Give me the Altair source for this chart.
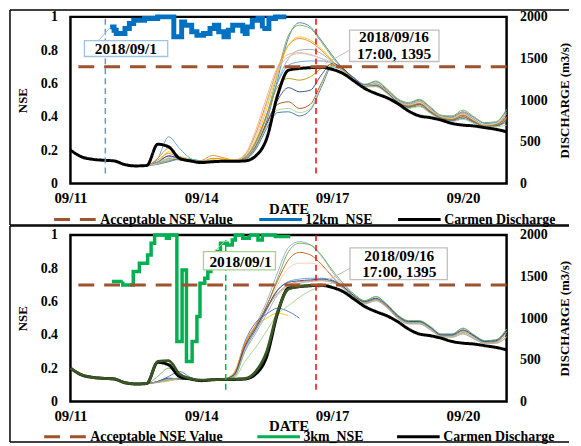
import altair as alt
import pandas as pd

START = pd.Timestamp("2018-09-11 00:00:00")


def iso(d):
    return (START + pd.Timedelta(days=d)).strftime("%Y-%m-%dT%H:%M:%S")


# ---------------- data ----------------
obs_day = [i * 0.25 for i in range(41)]  # 6-hourly, 09/11 00:00 .. 09/21 00:00
obs_q = [400, 320, 290, 278, 270, 225, 210, 215, 470, 440, 300, 270, 250, 260, 265, 265, 270, 330, 540, 1060,
         1360, 1380, 1390, 1395, 1370, 1320, 1230, 1140, 1080, 1030, 960, 870, 810, 790, 760, 720, 700, 690,
         670, 650, 620]

member_day = [1.5 + i * 0.25 for i in range(35)]

m12_colors = ["#4472C4", "#70AD47", "#ED7D31", "#FFC000", "#A5A5A5", "#5B9BD5", "#F4B183",
              "#264478", "#9E480E", "#2E75B6", "#A9D18E", "#BF9000", "#C9C9C9"]
m12_values = [
    [210, 220, 260, 330, 290, 262, 252, 262, 268, 270, 300, 450, 750, 1250, 1750, 1930, 1880, 1720, 1540, 1380, 1270, 1190, 1220, 1130, 1010, 960, 1000, 910, 810, 800, 860, 790, 720, 730, 880],
    [210, 215, 240, 300, 280, 262, 252, 262, 266, 270, 320, 500, 820, 1320, 1780, 1900, 1860, 1700, 1520, 1370, 1260, 1180, 1230, 1140, 1020, 970, 1010, 920, 820, 810, 880, 800, 730, 740, 890],
    [210, 215, 280, 360, 300, 275, 275, 335, 310, 275, 340, 600, 980, 1380, 1660, 1740, 1700, 1600, 1470, 1340, 1240, 1170, 1190, 1120, 1000, 940, 980, 890, 800, 790, 850, 770, 700, 710, 840],
    [210, 215, 250, 380, 320, 278, 262, 285, 305, 282, 320, 520, 900, 1330, 1660, 1760, 1720, 1620, 1480, 1350, 1240, 1170, 1180, 1100, 990, 930, 960, 870, 790, 780, 830, 760, 700, 700, 800],
    [210, 215, 230, 290, 300, 272, 256, 262, 266, 268, 300, 470, 800, 1220, 1500, 1600, 1610, 1560, 1460, 1360, 1250, 1180, 1200, 1120, 1000, 950, 990, 900, 800, 790, 840, 770, 700, 710, 830],
    [210, 215, 300, 560, 420, 300, 262, 262, 266, 270, 310, 490, 830, 1210, 1420, 1460, 1470, 1470, 1450, 1360, 1240, 1160, 1180, 1100, 980, 920, 950, 860, 780, 760, 800, 740, 690, 690, 760],
    [210, 215, 235, 280, 320, 292, 268, 272, 282, 278, 350, 640, 1040, 1400, 1550, 1570, 1550, 1500, 1440, 1340, 1240, 1160, 1170, 1090, 980, 920, 940, 860, 780, 760, 800, 740, 690, 690, 780],
    [210, 215, 250, 330, 300, 270, 255, 262, 266, 268, 290, 430, 710, 1000, 1150, 1100, 1120, 1300, 1440, 1380, 1260, 1180, 1190, 1110, 990, 930, 960, 870, 790, 770, 820, 750, 690, 700, 800],
    [210, 215, 240, 270, 300, 280, 262, 264, 266, 268, 290, 440, 730, 950, 980, 900, 950, 1200, 1420, 1370, 1250, 1170, 1180, 1100, 980, 920, 950, 860, 780, 760, 800, 740, 690, 690, 770],
    [210, 215, 230, 260, 290, 290, 270, 265, 266, 268, 285, 410, 660, 850, 860, 810, 880, 1150, 1400, 1360, 1250, 1170, 1170, 1090, 975, 910, 930, 850, 775, 750, 780, 730, 690, 690, 740],
    [210, 215, 235, 275, 310, 290, 265, 265, 266, 268, 290, 430, 690, 880, 900, 850, 900, 1180, 1410, 1360, 1245, 1160, 1160, 1080, 970, 900, 920, 840, 770, 740, 770, 720, 680, 680, 700],
    [210, 215, 300, 420, 320, 280, 262, 300, 290, 270, 310, 500, 820, 1160, 1260, 1240, 1280, 1380, 1430, 1360, 1250, 1170, 1190, 1110, 990, 930, 960, 870, 790, 770, 820, 750, 690, 700, 790],
    [210, 215, 245, 310, 290, 268, 258, 265, 270, 272, 330, 560, 950, 1350, 1520, 1560, 1540, 1500, 1450, 1350, 1250, 1175, 1190, 1110, 990, 940, 970, 880, 800, 780, 830, 760, 700, 720, 860],
]

m3_colors = ["#8FAADC", "#70AD47", "#C55A11", "#F8CBAD", "#4472C4", "#FFC000", "#5B9BD5",
             "#ED7D31", "#A9D18E", "#264478", "#A5A5A5"]
m3_values = [
    [210, 215, 230, 260, 280, 265, 255, 262, 266, 300, 650, 920, 1200, 1550, 1850, 1920, 1880, 1750, 1560, 1400, 1290, 1210, 1260, 1170, 1040, 970, 970, 900, 810, 810, 880, 800, 730, 740, 870],
    [210, 215, 300, 400, 300, 265, 255, 262, 266, 290, 600, 880, 1150, 1480, 1800, 1900, 1880, 1760, 1580, 1420, 1290, 1210, 1260, 1170, 1040, 970, 970, 900, 810, 810, 880, 800, 730, 740, 870],
    [210, 215, 235, 250, 275, 270, 258, 262, 266, 320, 680, 900, 1150, 1450, 1700, 1790, 1760, 1650, 1500, 1370, 1260, 1190, 1230, 1140, 1020, 950, 950, 880, 790, 790, 850, 780, 710, 720, 840],
    [210, 215, 225, 245, 265, 265, 256, 262, 266, 300, 620, 860, 1100, 1400, 1600, 1660, 1660, 1620, 1520, 1390, 1270, 1190, 1220, 1140, 1010, 950, 950, 880, 790, 790, 840, 770, 710, 720, 830],
    [210, 215, 240, 300, 360, 290, 256, 262, 266, 330, 720, 950, 1050, 1120, 1080, 1000],
    [210, 215, 230, 250, 270, 265, 256, 262, 266, 350, 700, 900, 1000, 1060, 1030],
    [210, 215, 235, 270, 275, 265, 256, 262, 266, 310, 640, 850, 1100, 1330, 1440, 1470, 1480, 1480, 1460, 1380, 1270, 1190, 1230, 1150, 1020, 950, 950, 880, 790, 790, 850, 780, 710, 720, 840],
    [210, 215, 230, 255, 270, 268, 258, 262, 266, 330, 700, 920, 1120, 1300, 1400, 1440, 1450, 1460, 1440, 1370, 1260, 1180, 1220, 1140, 1010, 940, 940, 870, 790, 780, 830, 760, 700, 710, 810],
    [210, 215, 230, 250, 265, 262, 256, 262, 266, 280, 480, 650, 850, 1050, 1150, 1250, 1330, 1380, 1420, 1370, 1260, 1180, 1210, 1130, 1000, 940, 940, 870, 790, 780, 820, 760, 700, 700, 780],
    [210, 215, 240, 280, 270, 265, 256, 262, 266, 320, 660, 880, 1120, 1340, 1430, 1450, 1460, 1470, 1450, 1380, 1270, 1200, 1240, 1160, 1030, 960, 960, 890, 800, 800, 860, 790, 720, 730, 850],
    [210, 215, 235, 265, 280, 270, 258, 262, 266, 300, 600, 820, 1050, 1280, 1380, 1420, 1440, 1450, 1430, 1360, 1250, 1170, 1210, 1130, 1000, 930, 930, 860, 780, 770, 810, 750, 700, 700, 770],
]

# thick dark-olive run in the 3 km panel (6-hourly from 09/11 00:00)
olive_q = [400, 320, 290, 278, 270, 225, 210, 215, 480, 490, 330, 275, 255, 262, 266, 268, 275, 360, 600, 1080,
           1350, 1380, 1390]

nse12_day = [0.91, 1.0, 1.05, 1.25, 1.35, 1.45, 1.7, 2.0, 2.37, 2.55, 2.62, 2.78, 2.9, 3.05, 3.2, 3.3, 3.4,
             3.52, 3.62, 3.72, 3.85, 3.95, 4.05, 4.17, 4.3, 4.4, 4.55, 4.7, 4.95]
nse12_val = [0.94, 0.92, 0.90, 0.93, 0.96, 0.98, 0.99, 1.0, 0.88, 0.97, 0.95, 0.91, 0.89, 0.90, 0.93, 0.95, 0.91,
             0.88, 0.92, 0.95, 0.95, 0.90, 0.94, 0.98, 0.99, 0.93, 0.99, 1.0, 1.0]

nse3_day = [0.95, 1.2, 1.44, 1.58, 1.77, 1.85, 1.93, 2.2, 2.27, 2.44, 2.56, 2.66, 2.79, 2.9, 2.97, 3.08, 3.15,
            3.22, 3.35, 3.44, 3.6, 3.71, 3.78, 3.95, 4.1, 4.3, 4.4, 4.7, 5.0]
nse3_val = [0.72, 0.70, 0.78, 0.83, 0.88, 0.95, 1.0, 0.98, 1.0, 0.36, 0.79, 0.24, 0.36, 0.51, 0.71, 0.74, 0.78,
            0.83, 0.90, 0.95, 0.94, 0.97, 1.0, 0.98, 1.0, 0.97, 1.0, 0.99, 1.0]

acceptable_nse = [0.7]

# annotations (days from 09/11 00:00, NSE units)
p1_vline_day = [0.8, 5.63]
p1_vline_y0 = [0.06, 0.06]
p1_vline_y1 = [1.0, 1.0]
p1_vline_col = ["#5B9BD5", "#FF0000"]
p1_box_x0 = [0.32, 6.40]
p1_box_x1 = [2.23, 8.45]
p1_box_y0 = [0.762, 0.732]
p1_box_y1 = [0.857, 0.921]
p1_box_col = ["#9DC3E6", "#BFBFBF"]
p1_text = ["2018/09/1", "2018/09/16", "17:00, 1395"]
p1_text_day = [1.27, 7.42, 7.42]
p1_text_y = [0.807, 0.876, 0.778]
p1_lead_x0 = [0.64, 6.40]
p1_lead_y0 = [0.857, 0.80]
p1_lead_x1 = [0.91, 5.85]
p1_lead_y1 = [0.935, 0.72]

p2_vline_day = [3.56, 5.63]
p2_vline_y0 = [0.07, 0.07]
p2_vline_y1 = [0.97, 1.0]
p2_vline_col = ["#00B050", "#FF0000"]
p2_box_x0 = [3.05, 6.41]
p2_box_x1 = [4.70, 8.64]
p2_box_y0 = [0.79, 0.731]
p2_box_y1 = [0.90, 0.922]
p2_box_col = ["#A9D18E", "#BFBFBF"]
p2_text = ["2018/09/1", "2018/09/16", "17:00, 1395"]
p2_text_day = [3.90, 7.54, 7.54]
p2_text_y = [0.840, 0.875, 0.776]
p2_lead_x0 = [3.30, 6.41]
p2_lead_y0 = [0.90, 0.80]
p2_lead_x1 = [3.55, 5.85]
p2_lead_y1 = [0.965, 0.72]

# ---------------- styling ----------------
FONT = "Liberation Serif"
BROWN = "#A0522D"
W, H = 440, 168

x_scale = alt.Scale(domain=[alt.DateTime(year=2018, month=9, date=11),
                            alt.DateTime(year=2018, month=9, date=21)])
nse_axis = alt.Axis(orient="left", values=[0, 0.2, 0.4, 0.6, 0.8, 1], format=".1~f", title="NSE",
                    ticks=False, labelPadding=13, grid=False, domain=False, labelFlush=False,
                    labelFontSize=14, titleFontSize=13, titleAngle=270, titleX=-48, titleY=84,
                    titleBaseline="middle", titleAlign="center")
nse_scale = alt.Scale(domain=[0, 1], nice=False)
q_axis = alt.Axis(orient="right", values=[0, 500, 1000, 1500, 2000], format="d", title="DISCHARGE (m3/s)",
                  ticks=False, labelPadding=13, grid=False, domain=False, labelFlush=False,
                  labelFontSize=14, titleFontSize=13, titleAngle=270, titleX=58, titleY=84,
                  titleBaseline="middle", titleAlign="center")
q_scale = alt.Scale(domain=[0, 2000], nice=False)


def panel(members, colors, nse_day, nse_val, nse_name, nse_color, nse_width, extra_olive,
          vday, vy0, vy1, vcol, bx0, bx1, by0, by1, bcol, texts, tday, ty, lx0, ly0, lx1, ly1,
          leg_x, leg_y, leg_pad, frame_top, frame_bottom, lab_pad, date_y):
    x_axis = alt.Axis(values=[alt.DateTime(year=2018, month=9, date=d) for d in (11, 14, 17, 20)],
                      format="%m/%d", title="DATE", ticks=False, labelPadding=lab_pad,
                      labelFlush=False, grid=False, domain=False, labelFontSize=15, titleFontSize=15,
                      titleY=date_y, titleBaseline="middle")

    def X(field="t"):
        return alt.X(f"{field}:T", scale=x_scale, axis=x_axis)

    series_dom = ["Acceptable NSE Value", nse_name, "Carmen Discharge"]
    legend = alt.Legend(orient="none", legendX=leg_x, legendY=leg_y, direction="horizontal", title=None,
                        symbolType="stroke", symbolSize=1849, symbolStrokeWidth=3,
                        labelFont=FONT, labelFontWeight="bold", labelFontSize=14, labelColor="black",
                        columnPadding=leg_pad, labelOffset=2)
    color = alt.Color("series:N", scale=alt.Scale(domain=series_dom, range=[BROWN, nse_color, "#000000"]),
                      legend=legend)
    dash = alt.StrokeDash("series:N", scale=alt.Scale(domain=series_dom, range=[[16, 10], [1, 0], [1, 0]]),
                          legend=legend)

    rows = []
    for k, (vals, col) in enumerate(zip(members, colors)):
        for d, v in zip(member_day, vals):
            rows.append({"t": iso(d), "q": v, "member": f"m{k}", "col": col})
    mdf = pd.DataFrame(rows)
    odf = pd.DataFrame({"t": [iso(d) for d in obs_day], "q": obs_q, "series": "Carmen Discharge"})

    mem = alt.Chart(mdf).mark_line(strokeWidth=1, opacity=0.9, interpolate="monotone").encode(
        x=X(), y=alt.Y("q:Q", scale=q_scale, axis=q_axis),
        stroke=alt.Stroke("col:N", scale=None), detail="member:N")
    obs = alt.Chart(odf).mark_line(strokeWidth=3, interpolate="monotone").encode(
        x=X(), y=alt.Y("q:Q", scale=q_scale, axis=q_axis), color=color, strokeDash=dash)
    q_layers = [mem, obs]
    if extra_olive:
        oldf = pd.DataFrame({"t": [iso(d) for d in obs_day[:len(olive_q)]], "q": olive_q})
        q_layers.append(alt.Chart(oldf).mark_line(strokeWidth=2.8, color="#385723", interpolate="monotone")
                        .encode(x=X(), y=alt.Y("q:Q", scale=q_scale, axis=q_axis)))
    q_layer = alt.layer(*q_layers)

    ndf = pd.DataFrame({"t": [iso(d) for d in nse_day], "v": nse_val, "series": nse_name})
    nse = alt.Chart(ndf).mark_line(strokeWidth=nse_width, interpolate="step-after").encode(
        x=X(), y=alt.Y("v:Q", scale=nse_scale, axis=nse_axis), color=color, strokeDash=dash)
    tdf = pd.DataFrame({"v": acceptable_nse, "series": "Acceptable NSE Value"})
    thr = alt.Chart(tdf).mark_rule(strokeWidth=3).encode(
        y=alt.Y("v:Q", scale=nse_scale, axis=nse_axis), color=color, strokeDash=dash)

    vdf = pd.DataFrame({"t": [iso(d) for d in vday], "v": vy0, "v2": vy1, "col": vcol})
    vl = alt.Chart(vdf).mark_rule(strokeWidth=1.5, strokeDash=[6, 4]).encode(
        x=X(), y=alt.Y("v:Q", scale=nse_scale, axis=nse_axis), y2="v2:Q",
        stroke=alt.Stroke("col:N", scale=None))

    bdf = pd.DataFrame({"t": [iso(d) for d in bx0], "t2": [iso(d) for d in bx1], "v": by0, "v2": by1,
                        "col": bcol})
    ldf = pd.DataFrame({"t": [iso(d) for d in lx0], "t2": [iso(d) for d in lx1], "v": ly0, "v2": ly1,
                        "col": bcol})
    xdf = pd.DataFrame({"t": [iso(d) for d in tday], "v": ty, "txt": texts})
    lead = alt.Chart(ldf).mark_rule(strokeWidth=1).encode(
        x=X(), x2="t2:T", y=alt.Y("v:Q", scale=nse_scale, axis=nse_axis), y2="v2:Q",
        stroke=alt.Stroke("col:N", scale=None))
    box = alt.Chart(bdf).mark_rect(fill="white", strokeWidth=1.3).encode(
        x=X(), x2="t2:T", y=alt.Y("v:Q", scale=nse_scale, axis=nse_axis), y2="v2:Q",
        stroke=alt.Stroke("col:N", scale=None))
    txt = alt.Chart(xdf).mark_text(font=FONT, fontWeight="bold", fontSize=15.5,
                                   color="black", align="center", baseline="middle").encode(
        x=X(), y=alt.Y("v:Q", scale=nse_scale, axis=nse_axis), text="txt:N")

    nse_layer = alt.layer(vl, nse, thr, lead, box, txt)

    # outer panel frame (top, left and bottom edges; right edge lies beyond the picture)
    one = pd.DataFrame({"a": [0]})
    fstyle = dict(stroke="black", strokeWidth=1.5)
    f_top = alt.Chart(one).mark_rule(**fstyle).encode(
        x=alt.value(-61), x2=alt.value(503), y=alt.value(frame_top), y2=alt.value(frame_top))
    f_bot = alt.Chart(one).mark_rule(**fstyle).encode(
        x=alt.value(-61), x2=alt.value(503), y=alt.value(frame_bottom), y2=alt.value(frame_bottom))
    f_left = alt.Chart(one).mark_rule(**fstyle).encode(
        x=alt.value(-61), x2=alt.value(-61), y=alt.value(frame_top), y2=alt.value(frame_bottom))

    return alt.layer(q_layer, nse_layer, f_top, f_bot, f_left).resolve_scale(
        y="independent").properties(width=W, height=H)


p1 = panel(m12_values, m12_colors, nse12_day, nse12_val, "12km_NSE", "#0070C0", 5, False,
           p1_vline_day, p1_vline_y0, p1_vline_y1, p1_vline_col,
           p1_box_x0, p1_box_x1, p1_box_y0, p1_box_y1, p1_box_col, p1_text, p1_text_day, p1_text_y,
           p1_lead_x0, p1_lead_y0, p1_lead_x1, p1_lead_y1,
           -18, 181.5, 19, -7, 210, 7, 25)
p2 = panel(m3_values, m3_colors, nse3_day, nse3_val, "3km_NSE", "#00B050", 3.5, True,
           p2_vline_day, p2_vline_y0, p2_vline_y1, p2_vline_col,
           p2_box_x0, p2_box_x1, p2_box_y0, p2_box_y1, p2_box_col, p2_text, p2_text_day, p2_text_y,
           p2_lead_x0, p2_lead_y0, p2_lead_x1, p2_lead_y1,
           -28, 180.5, 27, -9, 209, 7, 24)

chart = alt.vconcat(p1, p2, spacing=52, bounds="flush").resolve_scale(
    color="independent", strokeDash="independent").resolve_legend(
    color="independent", strokeDash="independent").properties(
    padding={"left": 0, "top": -5, "right": 0, "bottom": 0}).configure_view(
    stroke="black", strokeWidth=2.5).configure_axis(
    labelFont=FONT, labelFontWeight="bold", labelFontSize=14, labelColor="black",
    titleFont=FONT, titleFontWeight="bold", titleFontSize=14, titleColor="black")

chart.save("out.html", embed_options={"renderer": "svg", "actions": False})
